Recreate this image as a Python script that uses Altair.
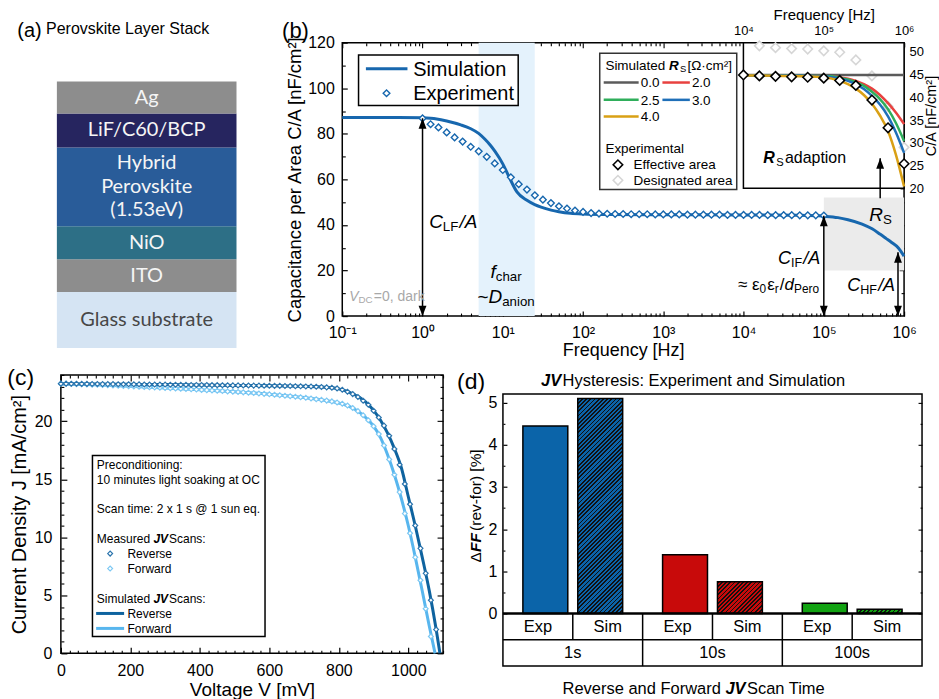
import altair as alt
import pandas as pd

FONT = "Liberation Sans"
STACK_FONT = "Lato"

# ------------------------------------------------------------------ data
# (a) layer stack, listed bottom -> top
stack_names = ["Glass substrate", "ITO", "NiO", "Hybrid Perovskite (1.53eV)", "LiF/C60/BCP", "Ag"]
stack_lines = [["Glass substrate"], ["ITO"], ["NiO"], ["Hybrid", "Perovskite", "(1.53eV)"], ["LiF/C60/BCP"], ["Ag"]]
stack_thickness = [56, 33, 33, 79, 34, 32]
stack_fill = ["#d5e4f3", "#8d8d8d", "#2d6f86", "#295c99", "#26255f", "#8d8d8d"]
stack_text = ["#474747", "#f5f5f5", "#f5f5f5", "#f5f5f5", "#f5f5f5", "#f5f5f5"]

# (b) capacitance spectrum
fchar_band_hz = [5, 25]
zoom_box_hz = [1e5, 1e6]
zoom_box_c = [20, 52]
sim_freq = [0.1, 0.2, 0.5, 1, 1.5, 2, 3, 4, 5, 6, 7, 8, 10, 12, 15, 20, 25, 30, 40, 50, 70, 100,
            200, 1000, 1e4, 5e4, 1e5, 1.5e5, 2e5, 3e5, 4e5, 5e5, 6e5, 7e5, 8.5e5, 1e6]
sim_cap = [87.2, 87.2, 87.2, 87.0, 86.5, 85.6, 83.9, 82.2, 80.2, 77.6, 75.0, 72.3, 66.8, 61.0, 54.5,
           50.8, 48.9, 47.8, 46.5, 45.8, 45.1, 44.8, 44.6, 44.5, 44.4, 44.2, 43.8, 43.2, 42.3, 40.4,
           38.3, 36.0, 34.0, 32.3, 29.9, 26.3]
exp_freq = [1, 1.26, 1.58, 2, 2.51, 3.16, 3.98, 5.01, 6.31, 7.94, 10, 12.6, 15.8, 20, 25.1, 31.6,
            39.8, 50.1, 63.1, 79.4, 100, 126, 158, 200, 251, 316, 398, 501, 631, 794, 1000, 1260,
            1580, 2000, 2510, 3160, 3980, 5010, 6310, 7940, 10000, 12600, 15800, 20000, 25100,
            31600, 39800, 50100, 63100, 79400, 100000]
exp_cap = [86.8, 84.2, 82.8, 80.6, 78.4, 76.6, 74.3, 72.3, 69.9, 67.0,
           64.1, 60.9, 57.9, 55.5, 53.0, 51.1, 49.6, 48.2, 47.2, 46.3,
           45.7, 45.2, 45.0, 44.9, 44.8, 44.8, 44.7, 44.7, 44.7, 44.6,
           44.6, 44.6, 44.6, 44.5, 44.5, 44.5, 44.5, 44.5, 44.4, 44.4,
           44.4, 44.4, 44.4, 44.3, 44.3, 44.3, 44.3, 44.2, 44.2, 44.2, 44.1]
# arrows: (frequency, low, high)
arrow_lf = (1, 0, 86.8)
arrow_if = (1e5, 0, 44.0)
arrow_hf = (8.4e5, 0, 28.0)

# inset
inset_range_hz = [1e4, 1e6]
inset_range_c = [20, 52]
inset_freq = [1e4, 3.16e4, 1e5, 1.26e5, 1.58e5, 2.0e5, 2.51e5, 3.16e5, 3.98e5, 5.01e5, 6.31e5, 7.94e5, 1e6]
rs_labels = ["0.0", "2.0", "2.5", "3.0", "4.0"]
rs_colors = ["#5b5b5b", "#e8413f", "#2fae5b", "#1f6fb8", "#d9a015"]
rs_cap = [
    [44.9, 44.9, 44.9, 44.9, 44.9, 44.9, 44.9, 44.9, 44.9, 44.9, 44.9, 44.9, 44.9],
    [44.8, 44.8, 44.7, 44.6, 44.4, 44.1, 43.6, 42.9, 41.9, 40.5, 38.7, 36.6, 34.1],
    [44.8, 44.8, 44.7, 44.6, 44.3, 43.9, 43.3, 42.5, 41.2, 39.6, 37.4, 34.3, 30.4],
    [44.8, 44.8, 44.6, 44.4, 44.1, 43.6, 42.9, 41.8, 40.3, 38.4, 35.8, 32.2, 27.8],
    [44.8, 44.7, 44.4, 44.1, 43.6, 42.9, 41.9, 40.5, 38.6, 36.0, 32.6, 27.3, 20.4],
]
eff_freq = [1e4, 1.58e4, 2.51e4, 3.98e4, 6.31e4, 1e5, 1.58e5, 2.51e5, 3.98e5, 6.31e5, 1e6]
eff_cap = [44.9, 44.7, 44.6, 44.5, 44.4, 44.2, 43.7, 42.6, 39.4, 33.3, 25.4]
des_freq = [1.58e4, 2.51e4, 3.98e4, 6.31e4, 1e5, 1.58e5, 2.51e5, 3.98e5, 6.31e5, 1e6]
des_cap = [51.3, 50.9, 50.7, 50.6, 50.2, 49.9, 48.2, 44.7, 38.0, 29.0]
arrow_rs = (5.04e5, 17.8, 26.6)

# (c) JV curves
jv_v_meas = [0, 15, 30, 45, 60, 75, 90, 105, 120, 135, 150, 165, 180, 195, 210, 225, 240, 255,
             270, 285, 300, 315, 330, 345, 360, 375, 390, 405, 420, 435, 450, 465, 480, 495, 510,
             525, 540, 555, 570, 585, 600, 615, 630, 645, 660, 675, 690, 705, 720, 735, 750, 765,
             780, 795, 810, 825, 840, 855, 870, 885, 900, 915, 930, 945, 960, 975, 990, 1005, 1020,
             1035, 1050, 1065, 1080]
jv_rev_meas = [23.25, 23.25, 23.24, 23.24, 23.23, 23.23, 23.22, 23.22, 23.21, 23.21,
               23.21, 23.20, 23.20, 23.20, 23.19, 23.19, 23.18, 23.18, 23.17, 23.17,
               23.17, 23.16, 23.16, 23.15, 23.15, 23.14, 23.14, 23.13, 23.13, 23.12,
               23.12, 23.11, 23.11, 23.10, 23.10, 23.09, 23.09, 23.08, 23.08, 23.07,
               23.07, 23.06, 23.06, 23.05, 23.04, 23.03, 23.02, 23.01, 23.00, 22.98,
               22.96, 22.93, 22.90, 22.84, 22.72, 22.55, 22.35, 22.10, 21.78, 21.43,
               20.92, 20.33, 19.63, 18.75, 17.62, 16.25, 14.60, 12.85, 11.02, 9.05,
               6.90, 4.58, 2.05]
jv_fwd_meas = [23.25, 23.24, 23.22, 23.21, 23.20, 23.18, 23.16, 23.15, 23.13, 23.11,
               23.09, 23.07, 23.05, 23.03, 23.01, 22.99, 22.97, 22.95, 22.93, 22.91,
               22.88, 22.86, 22.84, 22.81, 22.79, 22.76, 22.74, 22.71, 22.69, 22.66,
               22.64, 22.61, 22.58, 22.56, 22.53, 22.50, 22.47, 22.44, 22.40, 22.37,
               22.33, 22.29, 22.25, 22.21, 22.17, 22.12, 22.08, 22.03, 21.97, 21.91,
               21.85, 21.79, 21.72, 21.63, 21.52, 21.36, 21.15, 20.88, 20.53, 20.10,
               19.58, 18.90, 17.92, 16.72, 15.40, 13.90, 12.05, 10.35, 8.28, 6.30,
               3.85, 1.45]
jv_rev_sim_v = [0, 100, 200, 300, 400, 500, 600, 650, 700, 750, 780, 800, 820, 840, 860, 880, 900,
                920, 940, 960, 980, 1000, 1020, 1040, 1060, 1080, 1091]
jv_rev_sim_j = [23.24, 23.22, 23.19, 23.17, 23.14, 23.10, 23.07, 23.05, 23.02, 22.96, 22.90, 22.80,
                22.62, 22.38, 22.05, 21.60, 20.95, 20.10, 19.00, 17.65, 16.00, 13.50, 11.00, 8.30,
                5.45, 2.10, 0.0]
jv_fwd_sim_v = [0, 100, 200, 300, 400, 500, 600, 700, 750, 800, 840, 870, 900, 920, 940, 960, 980,
                1000, 1020, 1040, 1060, 1077]
jv_fwd_sim_j = [23.25, 23.16, 23.03, 22.88, 22.72, 22.55, 22.33, 22.05, 21.85, 21.58, 21.15, 20.53,
                19.58, 18.60, 17.15, 15.40, 13.35, 11.00, 8.30, 5.40, 2.40, 0.0]

# (d) hysteresis bars
scan_times = ["1s", "10s", "100s"]
dff_exp = [4.45, 1.39, 0.24]
dff_sim = [5.10, 0.75, 0.10]
time_colors = ["#0b64a9", "#c80a0a", "#12a312"]

# ------------------------------------------------------------------ helpers
AW = {c: 556 for c in "0123456789"}
AW.update({' ': 278, '!': 278, '(': 333, ')': 333, ',': 278, '-': 333, '.': 278, '/': 278,
           ':': 278, '=': 584, '@': 1015, '[': 278, ']': 278, '~': 584, '%': 889, '≈': 548,
           'ε': 440, 'Ω': 768, '·': 278, '²': 333, 'Δ': 668})
AW.update(dict(A=667, B=667, C=722, D=722, E=667, F=611, G=778, H=722, I=278, J=500, K=667, L=556,
               M=833, N=722, O=778, P=667, Q=778, R=722, S=667, T=611, U=722, V=667, W=944, X=667,
               Y=667, Z=611))
AW.update(dict(a=556, b=556, c=500, d=556, e=556, f=278, g=556, h=556, i=222, j=222, k=500, l=222,
               m=833, n=556, o=556, p=556, q=556, r=333, s=500, t=278, u=556, v=500, w=722, x=500,
               y=500, z=500))


def text_w(s, size, bold=False):
    w = sum(AW.get(ch, 556) for ch in s) * size / 1000.0
    return w * (1.12 if bold else 1.0)


def rich(x, y, segs, size, X, Y, align="left", color="black", angle=0):
    """Text made of styled pieces (n, i, b, bi, sub, subi) placed one after another."""
    items, off = [], 0.0
    for txt, st in segs:
        is_sub = st.startswith("sub")
        fs = size * 0.7 if is_sub else size
        bold = st in ("b", "bi")
        items.append((txt, st, fs, off, bold, is_sub))
        off += text_w(txt, fs, bold) + (1.2 if is_sub else 0.0)
    shift = 0.0 if align == "left" else (-off / 2 if align == "center" else -off)
    df = pd.DataFrame({"x": [x], "y": [y]})
    out = []
    for txt, st, fs, o, bold, is_sub in items:
        mk = dict(align="left", baseline="alphabetic", dx=shift + o,
                  dy=size * 0.35 + (size * 0.17 if is_sub else 0.0),
                  fontSize=fs, font=FONT, color=color, text=txt)
        if st in ("i", "bi", "subi"):
            mk["fontStyle"] = "italic"
        if bold:
            mk["fontWeight"] = "bold"
        if angle:
            mk["angle"] = angle
        out.append(alt.Chart(df).mark_text(**mk).encode(x=X, y=Y))
    return out


UP = "M0,-1L0.75,1L-0.75,1Z"
DOWN = "M0,1L0.75,-1L-0.75,-1Z"


def arrow(spec, X, Y, both=True):
    x, lo, hi = spec
    layers = [alt.Chart(pd.DataFrame({"x": [x], "y": [lo], "y2": [hi]}))
              .mark_rule(color="black", strokeWidth=1.5)
              .encode(x=X, y=Y, y2=alt.Y2("y2:Q")),
              alt.Chart(pd.DataFrame({"x": [x], "y": [hi]}))
              .mark_point(shape=UP, size=110, filled=True, color="black", opacity=1, yOffset=5.2)
              .encode(x=X, y=Y)]
    if both:
        layers.append(alt.Chart(pd.DataFrame({"x": [x], "y": [lo]}))
                      .mark_point(shape=DOWN, size=110, filled=True, color="black", opacity=1,
                                  yOffset=-5.2)
                      .encode(x=X, y=Y))
    return layers


def box(x0, x1, y0, y1, X, Y, fill="white", stroke="black", sw=1.5):
    return (alt.Chart(pd.DataFrame({"x": [x0], "x2": [x1], "y": [y0], "y2": [y1]}))
            .mark_rect(fill=fill, stroke=stroke, strokeWidth=sw)
            .encode(x=X, x2=alt.X2("x2:Q"), y=Y, y2=alt.Y2("y2:Q")))


def hline(x0, x1, y, X, Y, color="black", sw=1.5):
    return (alt.Chart(pd.DataFrame({"x": [x0], "x2": [x1], "y": [y]}))
            .mark_rule(color=color, strokeWidth=sw)
            .encode(x=X, x2=alt.X2("x2:Q"), y=Y))


def tick_axis(ch, spec):
    sc, vals, orient, size, extra = spec
    ax = alt.Axis(orient=orient, values=vals, labels=False, tickSize=size, offset=-size - extra,
                  domain=False, title=None, grid=False, tickColor="black", tickWidth=1.1)
    return (alt.X if ch == "x" else alt.Y)(ch + ":Q", scale=sc, axis=ax)


def ticks_only(xspec, yspec, anchor):
    """Invisible point that only carries extra label-free, inward tick axes."""
    enc = {}
    enc["x"] = tick_axis("x", xspec) if isinstance(xspec, tuple) else xspec
    enc["y"] = tick_axis("y", yspec) if isinstance(yspec, tuple) else yspec
    return (alt.Chart(pd.DataFrame({"x": [anchor[0]], "y": [anchor[1]]}))
            .mark_point(opacity=0).encode(**enc))


LOGEXPR = ("'10' + ['\u207b\u00b9','\u2070','\u00b9','\u00b2','\u00b3','\u2074','\u2075','\u2076']"
           "[round(log(datum.value)/LN10) + 1]")

# ------------------------------------------------------------------ panel (a)
SC_AX = alt.Scale(domain=[0, 1], range=[-4, 176], nice=False, zero=False)
SC_AY = alt.Scale(domain=[0, 267], range=[306, 39], nice=False, zero=False)
AXX = alt.X("x:Q", scale=SC_AX, axis=None)
AYY = alt.Y("y:Q", scale=SC_AY, axis=None)

bottoms, acc = [], 0
for t in stack_thickness:
    bottoms.append(acc)
    acc += t
stack_df = pd.DataFrame({"layer": stack_names, "x": 0, "x2": 1, "y": bottoms,
                         "y2": [b + t for b, t in zip(bottoms, stack_thickness)], "fill": stack_fill})
LINE_STEP = 23.5
lab_rows = []
for b, t, lines, col in zip(bottoms, stack_thickness, stack_lines, stack_text):
    c = b + t / 2
    n = len(lines)
    for j, ln in enumerate(lines):
        lab_rows.append({"x": 0.5, "y": c + (n - 1) / 2 * LINE_STEP - j * LINE_STEP, "t": ln, "col": col})
lab_df = pd.DataFrame(lab_rows)

a_layers = [
    alt.Chart(stack_df).mark_rect().encode(x=AXX, x2=alt.X2("x2:Q"), y=AYY, y2=alt.Y2("y2:Q"),
                                           fill=alt.Fill("fill:N", scale=None)),
    alt.Chart(lab_df).mark_text(font=STACK_FONT, fontSize=20, align="center", baseline="middle")
    .encode(x=AXX, y=AYY, text="t:N", color=alt.Color("col:N", scale=None)),
]
a_layers += rich(-0.22, 319, [("(a)", "n")], 20, AXX, AYY)
a_layers += rich(-0.06, 320.5, [("Perovskite Layer Stack", "n")], 16, AXX, AYY)
panel_a = alt.layer(*a_layers).properties(width=176, height=306,
                                          view=alt.ViewBackground(stroke="transparent"))

# ------------------------------------------------------------------ panel (b)
BLUE = "#1767ae"
SC_BX = alt.Scale(type="log", domain=[0.1, 1e6], nice=False)
SC_BY = alt.Scale(domain=[0, 120], nice=False, zero=False)
AX_BX = alt.Axis(values=[0.1, 1, 10, 100, 1e3, 1e4, 1e5, 1e6], labelExpr=LOGEXPR,
                 title="Frequency [Hz]", titleFontSize=18, labelFontSize=16, tickSize=5, offset=-5,
                 domain=False, labelPadding=8, titlePadding=2, labelFlush=False, labelOverlap=False,
                 orient="bottom")
AX_BY = alt.Axis(values=[0, 20, 40, 60, 80, 100, 120], title="Capacitance per Area C/A [nF/cm²]",
                 titleFontSize=18.5, labelFontSize=16, tickSize=5, offset=-5, domain=False,
                 labelPadding=8, titlePadding=3, labelFlush=False, orient="left")
BX = alt.X("x:Q", scale=SC_BX, axis=AX_BX)
BY = alt.Y("y:Q", scale=SC_BY, axis=AX_BY)

b_main = [
    box(fchar_band_hz[0], fchar_band_hz[1], 0, 120, BX, BY, fill="#e4f2fc", stroke="transparent", sw=0),
    box(zoom_box_hz[0], zoom_box_hz[1], zoom_box_c[0], zoom_box_c[1], BX, BY, fill="#ebebeb",
        stroke="transparent", sw=0),
    alt.Chart(pd.DataFrame({"x": sim_freq, "y": sim_cap}))
    .mark_line(color=BLUE, strokeWidth=3, interpolate="monotone").encode(x=BX, y=BY),
    alt.Chart(pd.DataFrame({"x": exp_freq, "y": exp_cap}))
    .mark_point(shape="diamond", size=45, filled=True, fill="white", stroke=BLUE, strokeWidth=1.4,
                opacity=1).encode(x=BX, y=BY),
]
b_main += arrow(arrow_lf, BX, BY) + arrow(arrow_if, BX, BY) + arrow(arrow_hf, BX, BY)
b_main += rich(0.0178, 125.5, [("(b)", "n")], 22, BX, BY)
b_main += rich(1.21, 41.6, [("C", "i"), ("LF", "sub"), ("/A", "i")], 19, BX, BY)
b_main += rich(11.18, 19.7, [("f", "i"), ("char", "sub")], 19, BX, BY, align="center")
b_main += rich(11.18, 8.8, [("~", "n"), ("D", "i"), ("anion", "sub")], 19, BX, BY, align="center")
b_main += rich(0.122, 8.8, [("V", "i"), ("DC", "sub"), ("=0, dark", "n")], 14, BX, BY, color="#a8a8a8")
b_main += rich(9.03e4, 25.5, [("C", "i"), ("IF", "sub"), ("/A", "i")], 18, BX, BY, align="right")
b_main += rich(9.03e4, 13.9, [("≈ ε", "n"), ("0", "sub"), ("ε", "n"), ("r", "sub"), ("/", "n"),
                              ("d", "i"), ("Pero", "sub")], 17, BX, BY, align="right")
b_main += rich(7.73e5, 13.9, [("C", "i"), ("HF", "sub"), ("/A", "i")], 18, BX, BY, align="right")
b_main += rich(5.18e5, 44.7, [("R", "i"), ("S", "sub")], 19, BX, BY, align="center")
# legend (Simulation / Experiment)
b_main += [box(0.1595, 15.56, 92.4, 114.6, BX, BY),
           hline(0.197, 0.649, 108.5, BX, BY, color=BLUE, sw=3),
           alt.Chart(pd.DataFrame({"x": [0.356], "y": [97.8]}))
           .mark_point(shape="diamond", size=45, filled=True, fill="white", stroke=BLUE,
                       strokeWidth=1.4, opacity=1).encode(x=BX, y=BY)]
b_main += rich(0.764, 108.5, [("Simulation", "n")], 20, BX, BY)
b_main += rich(0.764, 97.8, [("Experiment", "n")], 20, BX, BY)
# legend of the inset
b_main += [box(161.4, 8222, 55.5, 115.3, BX, BY, stroke="#333333")]
b_main += rich(189.9, 110.2, [("Simulated ", "n"), ("R", "bi"), ("S", "sub"), (" [Ω·cm²]", "n")],
               13.5, BX, BY)
leg_cols = [(180.9, 493, 522), (975, 2141, 2270)]
leg_rows = [102.5, 94.9, 87.6]
for k, (lab, colr) in enumerate(zip(rs_labels, rs_colors)):
    cx0, cx1, tx = leg_cols[k % 2]
    ry = leg_rows[k // 2]
    b_main.append(hline(cx0, cx1, ry, BX, BY, color=colr, sw=2.5))
    b_main += rich(tx, ry, [(lab, "n")], 13.5, BX, BY)
b_main += rich(189.9, 73.7, [("Experimental", "n")], 13.5, BX, BY)
b_main += [alt.Chart(pd.DataFrame({"x": [272], "y": [66.4]}))
           .mark_point(shape="diamond", size=90, filled=True, fill="white", stroke="black",
                       strokeWidth=1.6, opacity=1).encode(x=BX, y=BY),
           alt.Chart(pd.DataFrame({"x": [272], "y": [59.6]}))
           .mark_point(shape="diamond", size=90, filled=True, fill="white", stroke="#d6d6d6",
                       strokeWidth=1.6, opacity=1).encode(x=BX, y=BY)]
b_main += rich(426.6, 66.4, [("Effective area", "n")], 13.5, BX, BY)
b_main += rich(426.6, 59.6, [("Designated area", "n")], 13.5, BX, BY)

# inset (own scales)
SC_IX = alt.Scale(type="log", domain=inset_range_hz, range=[402, 563], nice=False)
SC_IY = alt.Scale(domain=inset_range_c, range=[146, 0], nice=False, zero=False)
AX_IX = alt.Axis(orient="top", values=[1e4, 1e5, 1e6], labelExpr=LOGEXPR, title="Frequency [Hz]",
                 titleFontSize=15, labelFontSize=13, tickSize=4, offset=-4, labelPadding=5,
                 titlePadding=2, domain=False, labelFlush=False, labelOverlap=False)
AX_IY = alt.Axis(orient="right", values=[20, 25, 30, 35, 40, 45, 50], title="C/A [nF/cm²]",
                 titleFontSize=14.5, labelFontSize=13, tickSize=4, offset=-4, labelPadding=5,
                 titlePadding=1, titleAngle=270, titleBaseline="top", domain=False, labelFlush=False)
IX = alt.X("x:Q", scale=SC_IX, axis=AX_IX)
IY = alt.Y("y:Q", scale=SC_IY, axis=AX_IY)

rs_rows = []
for lab, vals in zip(rs_labels, rs_cap):
    for f, v in zip(inset_freq, vals):
        rs_rows.append({"x": f, "y": v, "rs": lab})
b_inset = [
    box(inset_range_hz[0], inset_range_hz[1], inset_range_c[0], inset_range_c[1], IX, IY),
    alt.Chart(pd.DataFrame({"x": des_freq, "y": des_cap}))
    .mark_point(shape="diamond", size=90, filled=True, fill="white", stroke="#d6d6d6",
                strokeWidth=1.6, opacity=1).encode(x=IX, y=IY),
    alt.Chart(pd.DataFrame(rs_rows)).mark_line(strokeWidth=2.5, interpolate="monotone")
    .encode(x=IX, y=IY, color=alt.Color("rs:N", scale=alt.Scale(domain=rs_labels, range=rs_colors),
                                        legend=None)),
    alt.Chart(pd.DataFrame({"x": eff_freq, "y": eff_cap}))
    .mark_point(shape="diamond", size=90, filled=True, fill="white", stroke="black",
                strokeWidth=1.6, opacity=1).encode(x=IX, y=IY),
]
b_inset += arrow(arrow_rs, IX, IY, both=False)
b_inset += rich(1.77e4, 26.84, [("R", "bi"), ("S", "sub"), (" adaption", "n")], 16, IX, IY)

# extra tick axes (minor log ticks, mirrored ticks, inset bottom/left ticks)
LOG_MINOR = [k * 10.0 ** d for d in range(-1, 6) for k in range(2, 10)]
LOG_MAJOR = [0.1, 1, 10, 100, 1e3, 1e4, 1e5, 1e6]
IN_MINOR = [k * 10.0 ** d for d in range(4, 6) for k in range(2, 10)]
b_ticks = [
    ticks_only((SC_BX, LOG_MINOR, "bottom", 3, 0), (SC_BY, [10, 30, 50, 70, 90, 110], "left", 3, 0), (1, 0)),
    ticks_only((SC_BX, LOG_MAJOR, "top", 5, 0), (SC_BY, [20, 40], "right", 5, 0), (1, 0)),
    ticks_only((SC_BX, LOG_MINOR, "top", 3, 0), (SC_BY, [10, 30, 50], "right", 3, 0), (1, 0)),
    ticks_only((SC_IX, IN_MINOR + [1e5], "bottom", 3, 128),
               (SC_IY, [25, 30, 35, 40, 45, 50], "left", 3, 402), (1e5, 30)),
]

panel_b = (alt.layer(alt.layer(*b_main), alt.layer(*b_inset), *b_ticks)
           .resolve_scale(x="independent", y="independent")
           .properties(width=563, height=274))

# ------------------------------------------------------------------ panel (c)
DARK, LIGHT = "#0e639f", "#58b6ee"
DARK_M, LIGHT_M = "#2a74ad", "#7cc8f3"
SC_CX = alt.Scale(domain=[0, 1100], nice=False, zero=False)
SC_CY = alt.Scale(domain=[0, 24], nice=False, zero=False)
AX_CX = alt.Axis(values=[0, 200, 400, 600, 800, 1000], title="Voltage V [mV]", titleFontSize=19,
                 labelFontSize=16, tickSize=6, offset=-6, domain=False, labelPadding=9,
                 titlePadding=2, labelFlush=False, format="d")
AX_CY = alt.Axis(values=[0, 5, 10, 15, 20], title="Current Density J [mA/cm²]", titleFontSize=20,
                 labelFontSize=16, tickSize=6, offset=-6, domain=False, labelPadding=9,
                 titlePadding=5, labelFlush=False)
CX = alt.X("x:Q", scale=SC_CX, axis=AX_CX)
CY = alt.Y("y:Q", scale=SC_CY, axis=AX_CY)


def meas(v, j, col):
    return (alt.Chart(pd.DataFrame({"x": v, "y": j}))
            .mark_point(shape="diamond", size=24, filled=True, fill="white", stroke=col,
                        strokeWidth=1.2, opacity=1).encode(x=CX, y=CY))


c_layers = [
    alt.Chart(pd.DataFrame({"x": jv_fwd_sim_v, "y": jv_fwd_sim_j}))
    .mark_line(color=LIGHT, strokeWidth=3, interpolate="monotone").encode(x=CX, y=CY),
    alt.Chart(pd.DataFrame({"x": jv_rev_sim_v, "y": jv_rev_sim_j}))
    .mark_line(color=DARK, strokeWidth=3, interpolate="monotone").encode(x=CX, y=CY),
    meas(jv_v_meas[:len(jv_fwd_meas)], jv_fwd_meas, LIGHT_M),
    meas(jv_v_meas, jv_rev_meas, DARK_M),
    box(90.9, 587.6, 1.46, 17.06, CX, CY),
]
c_layers += rich(-154, 23.8, [("(c)", "n")], 23, CX, CY)
c_layers += rich(103.5, 16.23, [("Preconditioning:", "n")], 12, CX, CY)
c_layers += rich(103.5, 14.94, [("10 minutes light soaking at OC", "n")], 12, CX, CY)
c_layers += rich(103.5, 12.47, [("Scan time: 2 x 1 s @ 1 sun eq.", "n")], 12, CX, CY)
c_layers += rich(103.5, 9.89, [("Measured ", "n"), ("JV", "bi"), (" Scans:", "n")], 12, CX, CY)
c_layers += [meas([141.8], [8.6], DARK_M), meas([141.8], [7.31], LIGHT_M)]
c_layers += rich(191.6, 8.6, [("Reverse", "n")], 12, CX, CY)
c_layers += rich(191.6, 7.31, [("Forward", "n")], 12, CX, CY)
c_layers += rich(103.5, 4.73, [("Simulated ", "n"), ("JV", "bi"), (" Scans:", "n")], 12, CX, CY)
c_layers += [hline(101.5, 182, 3.44, CX, CY, color=DARK, sw=3),
             hline(101.5, 182, 2.15, CX, CY, color=LIGHT, sw=3)]
c_layers += rich(191.6, 3.44, [("Reverse", "n")], 12, CX, CY)
c_layers += rich(191.6, 2.15, [("Forward", "n")], 12, CX, CY)

C_MINOR_X = [v for v in range(0, 1101, 25) if v % 200]
C_MINOR_Y = [v for v in range(0, 25) if v % 5]
c_ticks = [
    ticks_only((SC_CX, C_MINOR_X, "bottom", 3, 0), (SC_CY, C_MINOR_Y, "left", 3, 0), (0, 0)),
    ticks_only((SC_CX, [0, 200, 400, 600, 800, 1000], "top", 6, 0),
               (SC_CY, [0, 5, 10, 15, 20], "right", 6, 0), (0, 0)),
    ticks_only((SC_CX, C_MINOR_X, "top", 3, 0), (SC_CY, C_MINOR_Y, "right", 3, 0), (0, 0)),
]
panel_c = (alt.layer(alt.layer(*c_layers), *c_ticks)
           .resolve_scale(x="independent", y="independent")
           .properties(width=383, height=279))

# ------------------------------------------------------------------ panel (d)
SC_DX = alt.Scale(domain=[0, 6], nice=False, zero=False)
D_TOP = 5.21
SC_DY = alt.Scale(domain=[0, D_TOP], range=[239, 19], nice=False, zero=False)
AX_DY = alt.Axis(values=[0, 1, 2, 3, 4, 5], title=None, labelFontSize=16, domain=False, tickSize=4,
                 offset=-4, labelPadding=6, labelFlush=False)
DX = alt.X("x:Q", scale=SC_DX, axis=None)
DY = alt.Y("y:Q", scale=SC_DY, axis=AX_DY)
PX_PER_UNIT = (239 - 19) / D_TOP
SLOT_PX = 420 / 6
BAR_W = 45 / SLOT_PX
OUTER = 20 / SLOT_PX
INNER = 5 / SLOT_PX
ROW = 0.625

exp_df = pd.DataFrame({"t": scan_times, "x": [2 * i + OUTER for i in range(3)],
                       "x2": [2 * i + OUTER + BAR_W for i in range(3)], "y": 0, "y2": dff_exp})
d_layers = [
    alt.Chart(exp_df).mark_rect(stroke="black", strokeWidth=1.5)
    .encode(x=DX, x2=alt.X2("x2:Q"), y=DY, y2=alt.Y2("y2:Q"),
            fill=alt.Fill("t:N", scale=alt.Scale(domain=scan_times, range=time_colors), legend=None)),
]


def hatch(color, w, h, period=4.2, frac=0.42):
    k = (w + h) / (w * w + h * h)
    n = int((w + h) / period) + 1
    p = 1.0 / ((w + h) / period)
    stops = []
    for i in range(n):
        t0 = i * p
        if t0 >= 1:
            break
        t1 = min(t0 + frac * p, 1.0)
        t2 = min(t0 + p, 1.0)
        stops += [{"offset": t0, "color": "#111111"}, {"offset": t1, "color": "#111111"},
                  {"offset": t1, "color": color}, {"offset": t2, "color": color}]
    return {"gradient": "linear", "x1": 0, "y1": 0, "x2": k * w, "y2": k * h, "stops": stops}


for i, (v, colr) in enumerate(zip(dff_sim, time_colors)):
    x0 = 2 * i + 1 + INNER
    d_layers.append(
        alt.Chart(pd.DataFrame({"x": [x0], "x2": [x0 + BAR_W], "y": [0], "y2": [v]}))
        .mark_rect(fill=hatch(colr, 45, max(v * PX_PER_UNIT, 1)), stroke="black", strokeWidth=1.5)
        .encode(x=DX, x2=alt.X2("x2:Q"), y=DY, y2=alt.Y2("y2:Q")))

d_layers.append(box(0, 6, -2 * ROW, D_TOP, DX, DY, fill="transparent"))
d_layers.append(hline(0, 6, 0, DX, DY, sw=2.5))
d_layers.append(hline(0, 6, -ROW, DX, DY, sw=1.5))
vr = [{"x": float(s), "x2": float(s), "y": -ROW if s % 2 else -2 * ROW, "y2": 0.0} for s in range(1, 6)]
d_layers.append(alt.Chart(pd.DataFrame(vr)).mark_rule(color="black", strokeWidth=1.5)
                .encode(x=DX, x2=alt.X2("x2:Q"), y=DY, y2=alt.Y2("y2:Q")))
slot_df = pd.DataFrame({"x": [s + 0.5 for s in range(6)], "y": -ROW / 2,
                        "t": ["Exp", "Sim"] * 3})
grp_df = pd.DataFrame({"x": [2 * i + 1.0 for i in range(3)], "y": -1.5 * ROW, "t": scan_times})
d_layers += [
    alt.Chart(slot_df).mark_text(fontSize=16.5, font=FONT, baseline="middle", align="center")
    .encode(x=DX, y=DY, text="t:N"),
    alt.Chart(grp_df).mark_text(fontSize=16.5, font=FONT, baseline="middle", align="center")
    .encode(x=DX, y=DY, text="t:N"),
]
d_layers += rich(-0.657, 5.52, [("(d)", "n")], 23, DX, DY)
d_layers += rich(2.757, 5.54, [("JV", "bi"), (" Hysteresis: Experiment and Simulation", "n")], 16.5,
                 DX, DY, align="center")
d_layers += rich(2.77, -1.776, [("Reverse and Forward ", "n"), ("JV", "bi"), (" Scan Time", "n")],
                 16.5, DX, DY, align="center")
d_layers += rich(-0.386, 2.605, [("Δ", "n"), ("FF", "bi"), (" (rev-for) [%]", "n")], 15.5, DX, DY,
                 align="center", angle=270)
D_HALF = [0.5, 1.5, 2.5, 3.5, 4.5]
d_ticks = [
    ticks_only(DX, (SC_DY, D_HALF, "left", 2, 0), (0, 0)),
    ticks_only(DX, (SC_DY, [0, 1, 2, 3, 4, 5], "right", 4, 0), (0, 0)),
    ticks_only(DX, (SC_DY, D_HALF, "right", 2, 0), (0, 0)),
]
panel_d = (alt.layer(alt.layer(*d_layers), *d_ticks)
           .resolve_scale(y="independent")
           .properties(width=420, height=293, view=alt.ViewBackground(stroke="transparent")))

# ------------------------------------------------------------------ layout
row1 = alt.hconcat(panel_a, panel_b, spacing=106, bounds="flush")
row2 = alt.hconcat(panel_c, panel_d, spacing=60, bounds="flush")
chart = (alt.vconcat(row1, row2, spacing=5)
         .properties(padding={"left": 6, "top": 6, "right": 0, "bottom": 0})
         .configure(font=FONT)
         .configure_axis(labelFont=FONT, titleFont=FONT, labelColor="black", titleColor="black",
                         domainColor="black", tickColor="black", titleFontWeight="normal",
                         grid=False, domainWidth=1.5, tickWidth=1.2)
         .configure_view(stroke="black", strokeWidth=1.5))

chart.save("out.html", embed_options={"renderer": "svg", "actions": False})
